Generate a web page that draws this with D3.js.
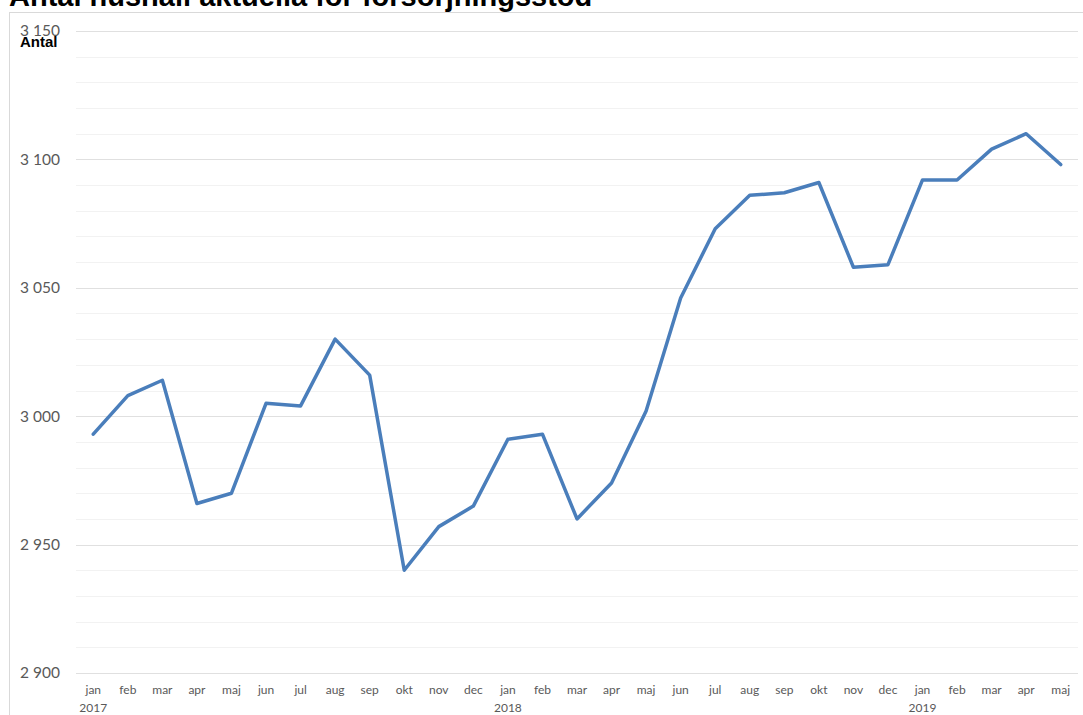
<!DOCTYPE html>
<html>
<head>
<meta charset="utf-8">
<script src="https://cdn.jsdelivr.net/npm/d3@7"></script>
<style>
  body { margin: 0; background: #fff; }
  svg { display: block; }
</style>
</head>
<body>
<svg id="chart" width="1083" height="715"></svg>
<script>
// months shown on the x axis (jan 2017 - maj 2019)
var months = ["jan","feb","mar","apr","maj","jun","jul","aug","sep","okt","nov","dec",
              "jan","feb","mar","apr","maj","jun","jul","aug","sep","okt","nov","dec",
              "jan","feb","mar","apr","maj"];
var years = ["2017","","","","","","","","","","","",
             "2018","","","","","","","","","","","",
             "2019","","","",""];
// antal hushåll per month
var households = [2993, 3008, 3014, 2966, 2970, 3005, 3004, 3030, 3016, 2940, 2957, 2965,
                  2991, 2993, 2960, 2974, 3002, 3046, 3073, 3086, 3087, 3091, 3058, 3059,
                  3092, 3092, 3104, 3110, 3098];
var yTicks = [2900, 2950, 3000, 3050, 3100, 3150];

var svg = d3.select("svg");
var margin = { top: 31, right: 5, bottom: 42, left: 76 };
var width = 1083 - margin.left - margin.right,
    height = 715 - margin.top - margin.bottom;
var tickFont = "Lato, 'Open Sans', sans-serif";

// outer frame
svg.append("rect")
  .attr("x", 9.5).attr("y", 12.5)
  .attr("width", 1090).attr("height", 720)
  .attr("fill", "none")
  .attr("stroke", "#d9d9d9");

svg.append("text")
  .attr("x", 9).attr("y", 6)
  .attr("font-family", "Liberation Sans, Arial, sans-serif")
  .attr("font-weight", "bold")
  .attr("font-size", 29)
  .attr("fill", "#000")
  .text("Antal hushåll aktuella för försörjningsstöd");

var g = svg.append("g")
  .attr("transform", "translate(" + margin.left + "," + margin.top + ")");

var idx = d3.range(months.length);
var x = d3.scaleBand().domain(idx).range([0, width]);
var y = d3.scaleLinear().domain([2900, 3150]).range([height, 0]);

// minor gridlines every 10
g.append("g")
  .selectAll("line")
  .data(d3.range(2900, 3151, 10).filter(function(v) { return v % 50 !== 0; }))
  .enter().append("line")
  .attr("x1", 0).attr("x2", width)
  .attr("y1", function(d) { return Math.round(y(d)) + 0.5; })
  .attr("y2", function(d) { return Math.round(y(d)) + 0.5; })
  .attr("stroke", "#f2f2f2");

// major gridlines
g.append("g")
  .selectAll("line")
  .data(yTicks)
  .enter().append("line")
  .attr("x1", 0).attr("x2", width)
  .attr("y1", function(d) { return Math.round(y(d)) + 0.5; })
  .attr("y2", function(d) { return Math.round(y(d)) + 0.5; })
  .attr("stroke", "#e0e0e0");

var fmt = function(v) { return d3.format(",")(v).replace(",", " "); };

var yAxis = g.append("g")
  .call(d3.axisLeft(y).tickValues(yTicks).tickSize(0).tickPadding(16).tickFormat(fmt));
yAxis.select(".domain").remove();
yAxis.selectAll("text")
  .attr("font-family", tickFont)
  .attr("font-size", 15.5)
  .attr("fill", "#595959");

var xAxis = g.append("g")
  .attr("transform", "translate(0," + height + ")")
  .call(d3.axisBottom(x).tickSize(0).tickPadding(12).tickFormat(function(i) { return months[i]; }));
xAxis.select(".domain").remove();
xAxis.selectAll("text")
  .attr("font-family", tickFont)
  .attr("font-size", 12)
  .attr("fill", "#595959");

// year labels under jan
g.append("g")
  .selectAll("text")
  .data(idx.filter(function(i) { return years[i] !== ""; }))
  .enter().append("text")
  .attr("x", function(i) { return x(i) + x.bandwidth() / 2; })
  .attr("y", height + 39)
  .attr("text-anchor", "middle")
  .attr("font-family", tickFont)
  .attr("font-size", 12)
  .attr("fill", "#595959")
  .text(function(i) { return years[i]; });

svg.append("text")
  .attr("x", 20).attr("y", 47)
  .attr("font-family", "Liberation Sans, Arial, sans-serif")
  .attr("font-weight", "bold")
  .attr("font-size", 15)
  .attr("fill", "#000")
  .text("Antal");

var line = d3.line()
  .x(function(d, i) { return x(i) + x.bandwidth() / 2; })
  .y(function(d) { return y(d); });

g.append("path")
  .datum(households)
  .attr("d", line)
  .attr("fill", "none")
  .attr("stroke", "#4a7ebb")
  .attr("stroke-width", 3.5)
  .attr("stroke-linejoin", "round")
  .attr("stroke-linecap", "round");
</script>
</body>
</html>
